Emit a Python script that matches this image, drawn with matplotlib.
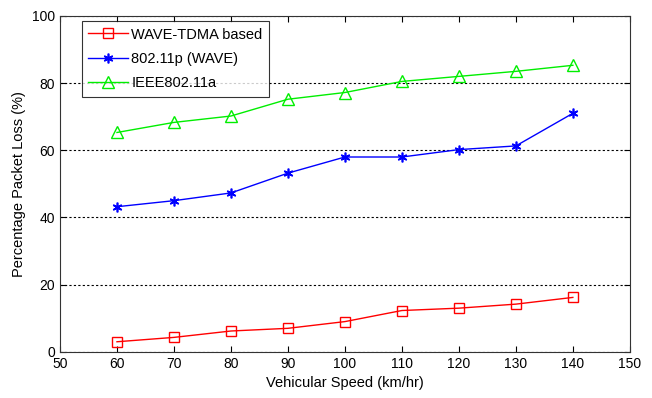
import matplotlib
matplotlib.use("Agg")
import matplotlib.pyplot as plt

plt.rcParams['font.family'] = ['Liberation Sans', 'DejaVu Sans']

speed = [60, 70, 80, 90, 100, 110, 120, 130, 140]
wave_tdma = [3, 4.3, 6.2, 7, 9, 12.3, 13, 14.2, 16.2]
wave_80211p = [43.2, 45, 47.3, 53.2, 58, 58, 60.2, 61.3, 71]
ieee80211a = [65.3, 68.3, 70.2, 75.2, 77.2, 80.5, 82, 83.5, 85.3]

x_ticks = [50, 60, 70, 80, 90, 100, 110, 120, 130, 140, 150]
y_ticks = [0, 20, 40, 60, 80, 100]

fig = plt.figure(figsize=(6.52, 3.98), dpi=100)
ax = fig.add_axes([0.092, 0.116, 0.874, 0.844])

ax.plot(speed, wave_tdma, color='#ff0000', lw=1, marker='s', ms=7,
        mfc='none', mec='#ff0000', mew=1, label='WAVE-TDMA based')
ax.plot(speed, wave_80211p, color='#0000ff', lw=1, marker=(6, 2, 0), ms=7,
        mec='#0000ff', mew=1.2, label='802.11p (WAVE)')
ax.plot(speed, ieee80211a, color='#00ee00', lw=1, marker='^', ms=8,
        mfc='none', mec='#00ee00', mew=1, label='IEEE802.11a')

ax.set_xlim(50, 150)
ax.set_ylim(0, 100)
ax.set_xticks(x_ticks)
ax.set_yticks(y_ticks)
ax.tick_params(direction='in', top=True, right=True, length=4, labelsize=10)
ax.yaxis.grid(True, linestyle=(0, (2, 2)), color='black', lw=0.8)
for s in ax.spines.values():
    s.set_color('#333333')

ax.set_xlabel('Vehicular Speed (km/hr)', fontsize=10.5)
ax.set_ylabel('Percentage Packet Loss (%)', fontsize=10.5)

leg = ax.legend(loc='upper left', bbox_to_anchor=(0.038, 0.985), fontsize=10.5,
                frameon=True, fancybox=False, edgecolor='black',
                handlelength=2.7, handletextpad=0.25, borderpad=0.45,
                labelspacing=0.7, borderaxespad=0)
leg.get_frame().set_linewidth(0.8)

fig.savefig('out.png', dpi=100)
